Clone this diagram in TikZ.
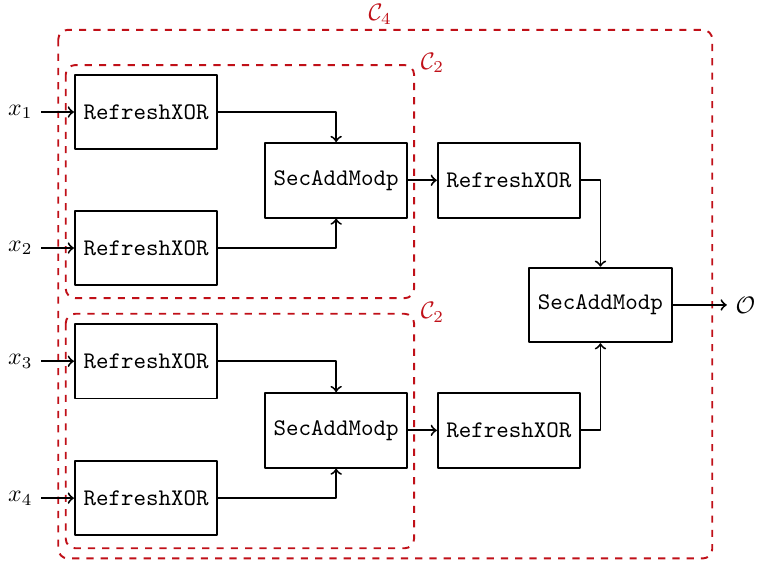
\documentclass[tikz,border=0pt]{standalone}
\usetikzlibrary{positioning}
\definecolor{grpred}{RGB}{192,16,24}
\tikzset{
	blk/.style={draw,thick,minimum width=2.1cm,minimum height=1.1cm,font=\ttfamily},
	grp/.style={draw=grpred,thick,dashed,rounded corners=4pt},
	grplbl/.style={text=grpred},
}
\begin{document}
\begin{tikzpicture}[>=to,line join=round,thick]
	\useasboundingbox (0,0) rectangle (11.17,-8.34);
	% groups
	\draw[grp] (0.86,-0.44) rectangle (10.51,-8.24);
	\draw[grp] (0.97,-0.96) rectangle (6.11,-4.40);
	\draw[grp] (0.97,-4.63) rectangle (6.11,-8.09);
	\node[grplbl] (c4) at (5.61,-0.21) {$\mathcal{C}_4$};
	\node[grplbl] (c2a) at (6.38,-0.93) {$\mathcal{C}_2$};
	\node[grplbl] (c2b) at (6.38,-4.61) {$\mathcal{C}_2$};
	% blocks
	\node[blk] (r1) at (2.155,-1.653) {RefreshXOR};
	\node[blk] (r2) at (2.155,-3.66) {RefreshXOR};
	\node[blk] (r3) at (2.155,-5.33) {RefreshXOR};
	\node[blk] (r4) at (2.155,-7.35) {RefreshXOR};
	\node[blk] (s1) at (4.96,-2.66) {SecAddModp};
	\node[blk] (s2) at (4.96,-6.35) {SecAddModp};
	\node[blk] (m1) at (7.51,-2.66) {RefreshXOR};
	\node[blk] (m2) at (7.51,-6.35) {RefreshXOR};
	\node[blk] (sf) at (8.86,-4.50) {SecAddModp};
	% inputs and output
	\foreach \i/\y in {1/-1.653,2/-3.66,3/-5.33,4/-7.35}{
		\node (x\i) at (0.3,\y) {$x_\i$};
		\draw[->] (x\i) -- (r\i);
	}
	\node (o) at (11.0,-4.50) {$\mathcal{O}$};
	\draw[->] (r1) -| (s1);
	\draw[->] (r2) -| (s1);
	\draw[->] (r3) -| (s2);
	\draw[->] (r4) -| (s2);
	\draw[->] (s1) -- (m1);
	\draw[->] (s2) -- (m2);
	\draw[->] (m1) -| (sf);
	\draw[->] (m2) -| (sf);
	\draw[->] (sf) -- (o);
\end{tikzpicture}
\end{document}
